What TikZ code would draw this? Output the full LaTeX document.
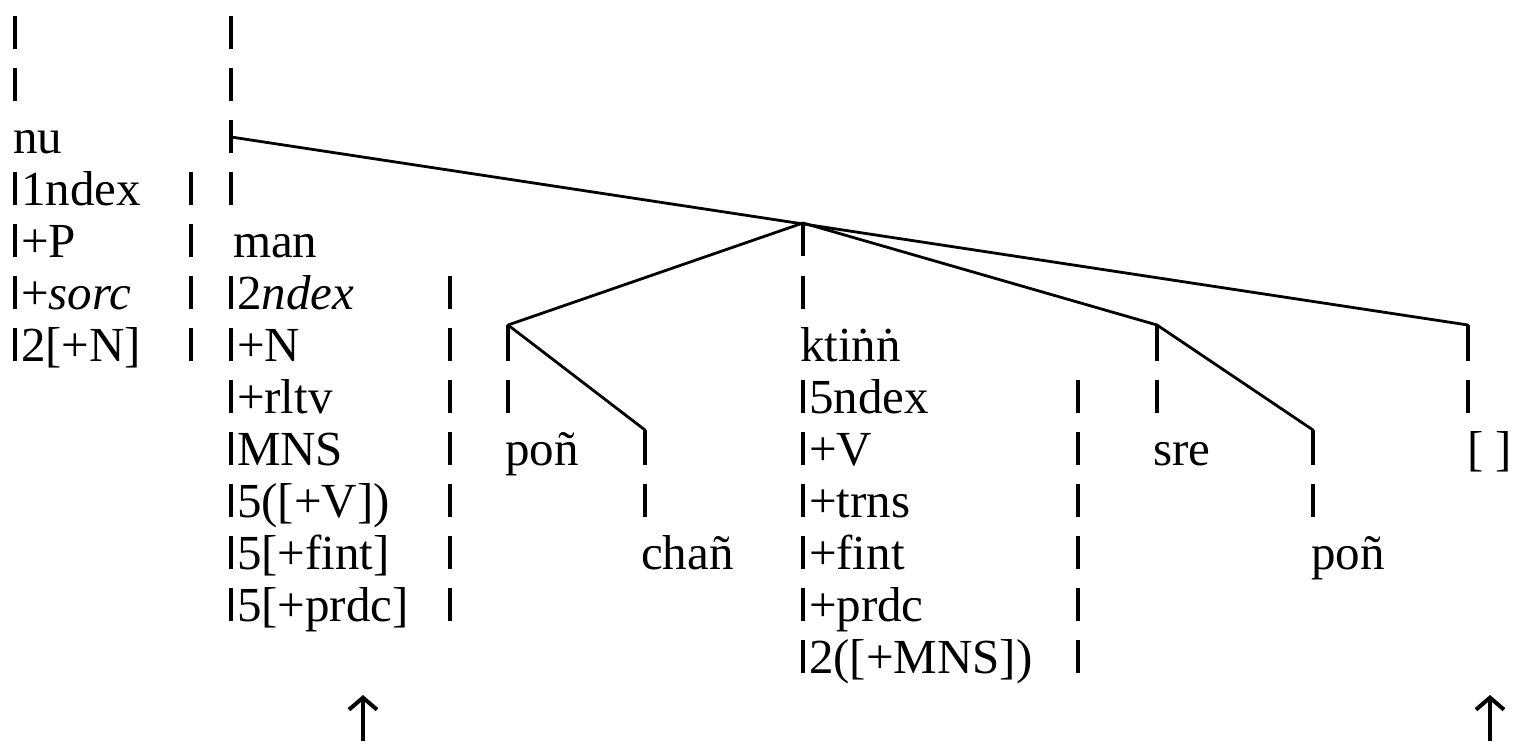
\documentclass[tikz,border=0pt]{standalone}
\usepackage{fontspec}
\setmainfont{Liberation Serif}
\usetikzlibrary{arrows.meta}
\begin{document}
\begin{tikzpicture}[x=1pt,y=-1pt,
  txt/.style={anchor=base west,inner sep=0pt,outer sep=0pt,font=\fontsize{49}{52}\selectfont},
  treeline/.style={line width=2.8pt,line cap=round,line join=round},
  barline/.style={line width=4.4pt},
  uparrow/.style={line width=4pt,-{Straight Barb[length=12pt,width=28pt,line width=4pt]}}]
\useasboundingbox (0,0) rectangle (1513,744);
% ---- standalone vertical bars (x = centre, y = baseline)
\foreach \x/\y in {15/49,15/101,15/205,15/257,15/309,15/361,
  191/205,191/257,191/309,191/361,
  231/49,231/101,231/153,231/205,231/309,231/361,231/413,231/465,231/517,231/569,231/621,
  450/309,450/361,450/413,450/465,450/517,450/569,450/621,
  508/413,645/517,
  803/309,803/413,803/465,803/517,803/569,803/621,803/673,
  1078/413,1078/465,1078/517,1078/569,1078/621,1078/673,
  1157/413,1313/517,1468/413}
  \draw[barline] (\x,\y) -- (\x,\y-33);
% ---- column 1
\node[txt] (nu) at (13,153) {nu};
\node[txt] (a4) at (21,205) {1ndex};
\node[txt] (a5) at (21,257) {+P};
\node[txt] (a6) at (21,309) {+\textit{sorc}};
\node[txt] (a7) at (21,361) {2[+N]};
% ---- column 2
\node[txt] (man) at (233,257) {man};
\node[txt] (b6) at (237,309) {2\textit{ndex}};
\node[txt] (b7) at (237,361) {+N};
\node[txt] (b8) at (237,413) {+rltv};
\node[txt] (b9) at (237,465) {MNS};
\node[txt] (b10) at (237,517) {5([+V])};
\node[txt] (b11) at (237,569) {5[+fint]};
\node[txt] (b12) at (237,621) {5[+prdc]};
% ---- column 3
\node[txt] (pon1) at (505,465) {poñ};
\node[txt] (chan) at (641,569) {chañ};
% ---- column 4
\node[txt] (ktinn) at (800,361) {ktiṅṅ};
\node[txt] (d8) at (809,413) {5ndex};
\node[txt] (d9) at (809,465) {+V};
\node[txt] (d10) at (809,517) {+trns};
\node[txt] (d11) at (809,569) {+fint};
\node[txt] (d12) at (809,621) {+prdc};
\node[txt] (d13) at (809,673) {2([+MNS])};
% ---- columns 5, 6
\node[txt] (sre) at (1153,465) {sre};
\node[txt] (pon2) at (1311,569) {poñ};
\node[txt] (empty) at (1467,465) {[ ]};
% ---- tree
\coordinate (root) at (231,137);
\coordinate (J) at (803,223);
\coordinate (Jb) at (803,256);
\coordinate (Pt) at (508,325);
\coordinate (Pb) at (508,361);
\coordinate (Pd) at (645,430);
\coordinate (Pdb) at (645,465);
\coordinate (St) at (1157,325);
\coordinate (Sb) at (1157,361);
\coordinate (Sd) at (1313,430);
\coordinate (Sdb) at (1313,465);
\coordinate (Bt) at (1468,325);
\coordinate (Bb) at (1468,361);
\draw[treeline] (root) -- (Bt);
\draw[treeline] (J) -- (Pt);
\draw[treeline] (J) -- (St);
\draw[barline] (J) -- (Jb);
\draw[treeline] (Pd) -- (Pt);
\draw[barline] (Pt) -- (Pb);
\draw[barline] (Pd) -- (Pdb);
\draw[treeline] (St) -- (Sd);
\draw[barline] (St) -- (Sb);
\draw[barline] (Sd) -- (Sdb);
\draw[barline] (Bt) -- (Bb);
% ---- arrows
\coordinate (ar1a) at (363,741);
\coordinate (ar1b) at (363,695);
\coordinate (ar2a) at (1490,741);
\coordinate (ar2b) at (1490,695);
\draw[uparrow] (ar1a) -- (ar1b);
\draw[uparrow] (ar2a) -- (ar2b);
\end{tikzpicture}
\end{document}
